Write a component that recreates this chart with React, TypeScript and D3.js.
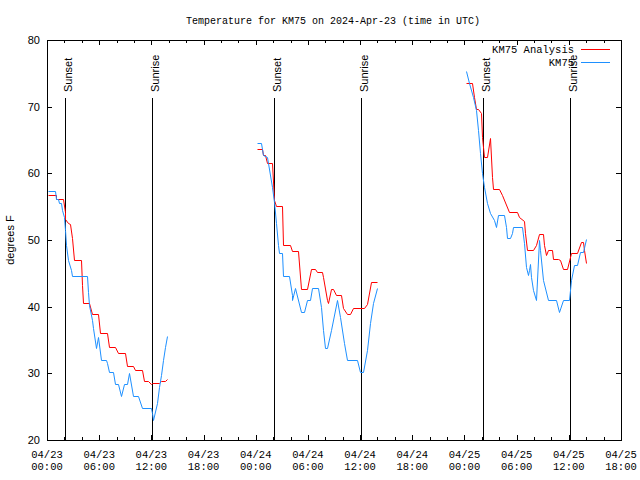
import React from "react";
import * as d3 from "d3";

const TITLE = "Temperature for KM75 on 2024-Apr-23 (time in UTC)";
const Y_LABEL = "degrees F";
const START = Date.UTC(2024, 3, 23, 0, 0);
const END = Date.UTC(2024, 3, 25, 18, 0);
const yTicks = [20, 30, 40, 50, 60, 70, 80];
const seriesNames = ["KM75 Analysis", "KM75"];
const seriesColors = ["#ff0000", "#1e90ff"];
const sunsetHours = [2.07, 26.13, 50.17];
const sunriseHours = [12.1, 36.14, 60.17];

// KM75 observations (hours after 04/23 00:00 UTC)
const obsHours1 = [0.15,0.92,1.0,1.3,1.33,1.6,1.72,1.9,2.07,2.2,2.45,2.72,2.84,4.56,4.75,4.86,5.14,5.32,5.6,5.9,6.18,6.78,6.94,7.17,7.55,7.82,8.2,8.5,8.85,9.24,9.46,9.85,10.5,10.89,11.92,12.04,12.22,12.6,12.88,13.07,13.3,13.57,13.84];
const obsTemps1 = [57.35,57.35,56.1,56.1,55.5,55.5,54.5,53.5,51.5,49.25,47,45.5,44.6,44.6,42.25,40.25,38,36.75,33.85,35.5,32,32,31.5,30.15,30.15,28.4,28.4,26.6,28.4,28.4,30.1,26.6,26.6,24.75,24.75,24,23,25.5,28,29.75,32,34,35.6];
const obsHours2 = [24.18,24.57,24.76,24.87,25.26,25.45,25.84,26.1,26.33,26.6,26.71,26.99,27.17,27.86,28.14,28.2,28.52,29.2,29.55,29.93,30.24,30.5,31.2,31.47,31.7,31.93,32.23,32.62,33.31,33.69,34.15,34.53,35.61,35.99,36.3,36.76,37.14,37.52,37.91];
const obsTemps2 = [64.5,64.5,63.6,62.75,62.5,61.5,58,55.75,52.5,49.25,48.1,48.1,44.6,44.6,41.75,41,42.75,39.25,39.25,41,41,42.75,42.75,40,36.5,33.75,33.75,36.5,41,38.5,34.5,32,32,30.25,30.25,33.5,37.5,40.5,42.75];
const obsHours3 = [48.18,48.56,48.95,49.33,49.59,49.79,50.05,50.25,50.63,50.93,51.4,51.6,51.9,52.55,52.78,52.93,53.24,53.43,53.62,54.65,54.85,55.08,55.27,55.42,55.54,55.65,55.92,56.23,56.54,56.69,57.07,57.64,58.53,58.91,59.3,59.99,60.22,60.6,60.98,61.29,61.6,61.94];
const obsTemps3 = [75.4,73.5,71.5,69.5,66.5,63,60,58,55.5,54,53,52,53.75,53.75,52,50.25,50.25,51,52,52,49.5,46,44.75,45.5,46.4,44.5,42.5,41,50,48.5,44,41,41,39.25,41,41,44,46.25,46.25,48.25,48.25,50.1];

// KM75 Analysis
const anaHours1 = [0.15,1.04,1.06,1.87,2.03,2.1,2.4,2.65,2.84,3.1,3.88,4.02,4.14,4.84,5.14,5.9,6.1,6.86,7.16,7.82,8.2,8.97,9.16,9.85,10.12,10.89,11.15,11.65,11.92,12.04,12.91,13.11,13.57,13.84];
const anaTemps1 = [56.75,56.75,56.1,56.1,54.25,53.1,52.55,52.4,50.25,47,47,43.2,40.5,40.5,38.85,38.85,36,36,34,34,33,33,31.15,31.15,30.45,30.45,28.85,28.85,28.4,28.5,28.5,28.85,28.85,29.1];
const anaHours2 = [24.18,24.76,24.87,25.07,25.26,25.91,26.1,26.3,26.99,27.17,27.94,28.2,28.9,29.2,29.93,30.32,30.82,31.08,31.59,31.77,32.16,32.27,32.62,32.85,33.23,33.77,34.07,34.46,34.84,35.22,36.45,36.83,37.22,37.91];
const anaTemps2 = [63.6,63.6,62.75,62.75,61.5,61.5,56,55.1,55.1,49.25,49.25,48.4,48.4,42.6,42.6,45.6,45.6,45.25,45.25,44.5,41,40.5,42.6,42.6,41.75,41.75,39.75,38.85,38.85,39.75,39.75,40.4,43.75,43.75];
const anaHours3 = [48.18,48.83,49.1,49.33,49.59,49.86,50.02,50.25,50.56,50.94,51.13,51.25,51.97,52.28,53.16,54.01,54.27,54.85,55.0,55.23,55.92,56.23,56.61,57.0,57.15,57.34,57.64,58.03,58.22,58.79,58.99,59.3,59.83,60.22,60.98,61.37,61.67,61.78,61.94];
const anaTemps3 = [73.6,73.6,71.5,69.6,69.6,69,65.5,62.5,62.5,65.25,59.5,57.6,57.6,56.75,54.2,54.2,53.4,52.9,51,48.5,48.5,49.25,50.9,50.9,49.25,47.75,48.5,48.5,47.1,47.1,47,45.6,45.6,48,48,49.75,49.75,48.5,46.6];

const W = 640, H = 480;
const L = 47, R = 621, T = 40, B = 440;
const MONO = "'Liberation Mono', 'DejaVu Sans Mono', monospace";
const SANS = "'Liberation Sans', Arial, sans-serif";

const hourDate = (h: number) => new Date(START + h * 3600 * 1000);

export default function App() {
  const x = d3.scaleUtc().domain([new Date(START), new Date(END)]).range([L, R]);
  const y = d3.scaleLinear().domain([20, 80]).range([B, T]);
  const line = d3
    .line<[number, number]>()
    .x((d) => Math.round(x(hourDate(d[0]))) + 0.5)
    .y((d) => Math.round(y(d[1])) + 0.5);

  const seg = (hs: number[], vs: number[]) => hs.map((h, i) => [h, vs[i]] as [number, number]);
  const analysis = [seg(anaHours1, anaTemps1), seg(anaHours2, anaTemps2), seg(anaHours3, anaTemps3)];
  const obs = [seg(obsHours1, obsTemps1), seg(obsHours2, obsTemps2), seg(obsHours3, obsTemps3)];

  const majorTicks = x.ticks(d3.utcHour.every(6)!);
  const minorTicks = x.ticks(d3.utcHour.every(2)!);
  const fmtDate = d3.utcFormat("%m/%d");
  const fmtTime = d3.utcFormat("%H:%M");

  const px = (v: number) => Math.round(v) + 0.5;

  return (
    <svg width={W} height={H} style={{ position: "absolute", left: 0, top: 0, background: "#fff" }}>
      <rect x={0} y={0} width={W} height={H} fill="#fff" />
      <text x={333} y={24} textAnchor="middle" fontFamily={MONO} fontSize={10}>{TITLE}</text>
      <text transform={`translate(14,240) rotate(-90)`} textAnchor="middle" fontFamily={SANS} fontSize={11}>{Y_LABEL}</text>

      {/* ticks */}
      <g stroke="#000" strokeWidth={1} shapeRendering="crispEdges">
        {minorTicks.map((t, i) => {
          const xx = px(x(t));
          const isMajor = t.getUTCHours() % 6 === 0;
          const len = isMajor ? 5 : 3;
          return (
            <g key={i}>
              <line x1={xx} x2={xx} y1={B} y2={B - len} />
              <line x1={xx} x2={xx} y1={T} y2={T + len} />
            </g>
          );
        })}
        {yTicks.map((v, i) => (
          <g key={i}>
            <line x1={L} x2={L + 5} y1={px(y(v))} y2={px(y(v))} />
            <line x1={R} x2={R - 5} y1={px(y(v))} y2={px(y(v))} />
          </g>
        ))}
      </g>
      {yTicks.map((v, i) => (
        <text key={i} x={40} y={y(v) + 4} textAnchor="end" fontFamily={SANS} fontSize={11}>{v}</text>
      ))}
      {majorTicks.map((t, i) => (
        <g key={i} fontFamily={MONO} fontSize={10.5} textAnchor="middle">
          <text x={x(t)} y={458}>{fmtDate(t)}</text>
          <text x={x(t)} y={470}>{fmtTime(t)}</text>
        </g>
      ))}

      {/* sunset / sunrise */}
      {sunsetHours.map((h, i) => {
        const xx = px(x(hourDate(h)));
        return (
          <g key={"ss" + i}>
            <line x1={xx} x2={xx} y1={98} y2={B} stroke="#000" strokeWidth={1} shapeRendering="crispEdges" />
            <text transform={`translate(${xx + 6},92) rotate(-90)`} fontFamily={SANS} fontSize={11}>Sunset</text>
          </g>
        );
      })}
      {sunriseHours.map((h, i) => {
        const xx = px(x(hourDate(h)));
        return (
          <g key={"sr" + i}>
            <line x1={xx} x2={xx} y1={98} y2={B} stroke="#000" strokeWidth={1} shapeRendering="crispEdges" />
            <text transform={`translate(${xx + 6},92) rotate(-90)`} fontFamily={SANS} fontSize={11}>Sunrise</text>
          </g>
        );
      })}

      {/* data */}
      {analysis.map((s, i) => (
        <path key={"a" + i} d={line(s) || ""} fill="none" stroke={seriesColors[0]} strokeWidth={1} />
      ))}
      {obs.map((s, i) => (
        <path key={"o" + i} d={line(s) || ""} fill="none" stroke={seriesColors[1]} strokeWidth={1} />
      ))}

      {/* legend */}
      {seriesNames.map((n, i) => (
        <g key={n}>
          <text x={574} y={53 + i * 13} textAnchor="end" fontFamily={MONO} fontSize={10.5}>{n}</text>
          <line x1={581} x2={610} y1={49.5 + i * 13} y2={49.5 + i * 13} stroke={seriesColors[i]} strokeWidth={1} shapeRendering="crispEdges" />
        </g>
      ))}

      <rect x={L + 0.5} y={T + 0.5} width={R - L} height={B - T} fill="none" stroke="#000" strokeWidth={1} shapeRendering="crispEdges" />
    </svg>
  );
}
